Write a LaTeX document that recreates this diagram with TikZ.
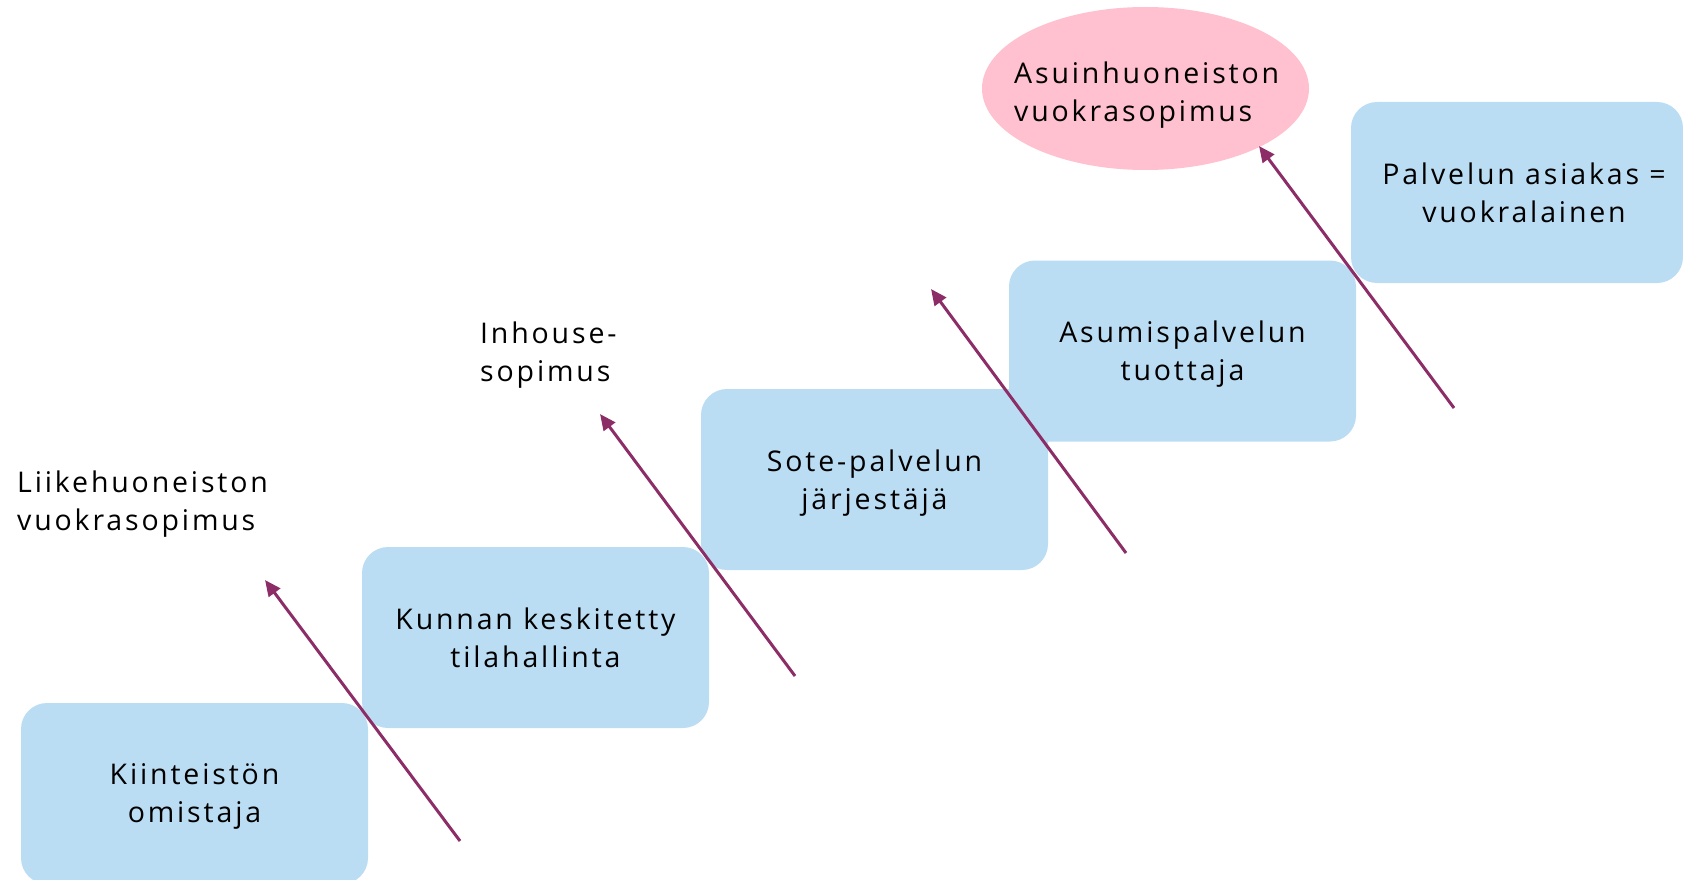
\documentclass[tikz,border=0pt]{standalone}
\usepackage{fontspec}
\setmainfont{Open Sans}[LetterSpace=10]
\usetikzlibrary{arrows.meta,shapes.geometric}
\definecolor{boxblue}{HTML}{BBDDF3}
\definecolor{pinkell}{HTML}{FFC0CF}
\definecolor{arrowpurple}{HTML}{8C2D67}
\tikzset{
  stepbox/.style={fill=boxblue, rounded corners=26pt, minimum width=347pt, minimum height=181pt, align=center, inner sep=0pt, text depth=0pt, font=\fontsize{28.5}{38}\selectfont},
  lbl/.style={align=left, inner sep=0pt, font=\fontsize{28.5}{38}\selectfont},
  conn/.style={draw=arrowpurple, line width=3pt, -{Triangle[length=16pt,width=14pt]}}
}
\begin{document}
\begin{tikzpicture}[x=1pt,y=-1pt]
\useasboundingbox (0,0) rectangle (1683,880);
\node[stepbox] (b1) at (194.5,793.5) {Kiinteistön\\omistaja};
\node[stepbox] (b2) at (535.5,637.5) {Kunnan keskitetty\\tilahallinta};
\node[stepbox] (b3) at (874.5,479.5) {Sote-palvelun\\järjestäjä};
\node[stepbox] (b4) at (1182.5,351) {Asumispalvelun\\tuottaja};
\node[stepbox, minimum width=332pt] (b5) at (1517,192.5) {};
\node[lbl, align=center] (t5) at (1524,192.5) {Palvelun asiakas =\\vuokralainen};
\node[ellipse, fill=pinkell, minimum width=327pt, minimum height=163pt, inner sep=0pt] (ell) at (1145.5,88.5) {};
\node[lbl, anchor=west] (t6) at (1014,95) {Asuinhuoneiston\\vuokrasopimus};
\node[lbl, anchor=west] (l1) at (17,504) {Liikehuoneiston\\vuokrasopimus};
\node[lbl, anchor=west] (l2) at (480,355) {Inhouse-\\sopimus};
\coordinate (a1s) at (460,841);
\coordinate (a1e) at (265,580);
\coordinate (a2s) at (795,676);
\coordinate (a2e) at (600,414);
\coordinate (a3s) at (1126,553);
\coordinate (a3e) at (931,289);
\coordinate (a4s) at (1454,408);
\coordinate (a4e) at (1259,146);
\draw[conn] (a1s) -- (a1e);
\draw[conn] (a2s) -- (a2e);
\draw[conn] (a3s) -- (a3e);
\draw[conn] (a4s) -- (a4e);
\end{tikzpicture}
\end{document}
